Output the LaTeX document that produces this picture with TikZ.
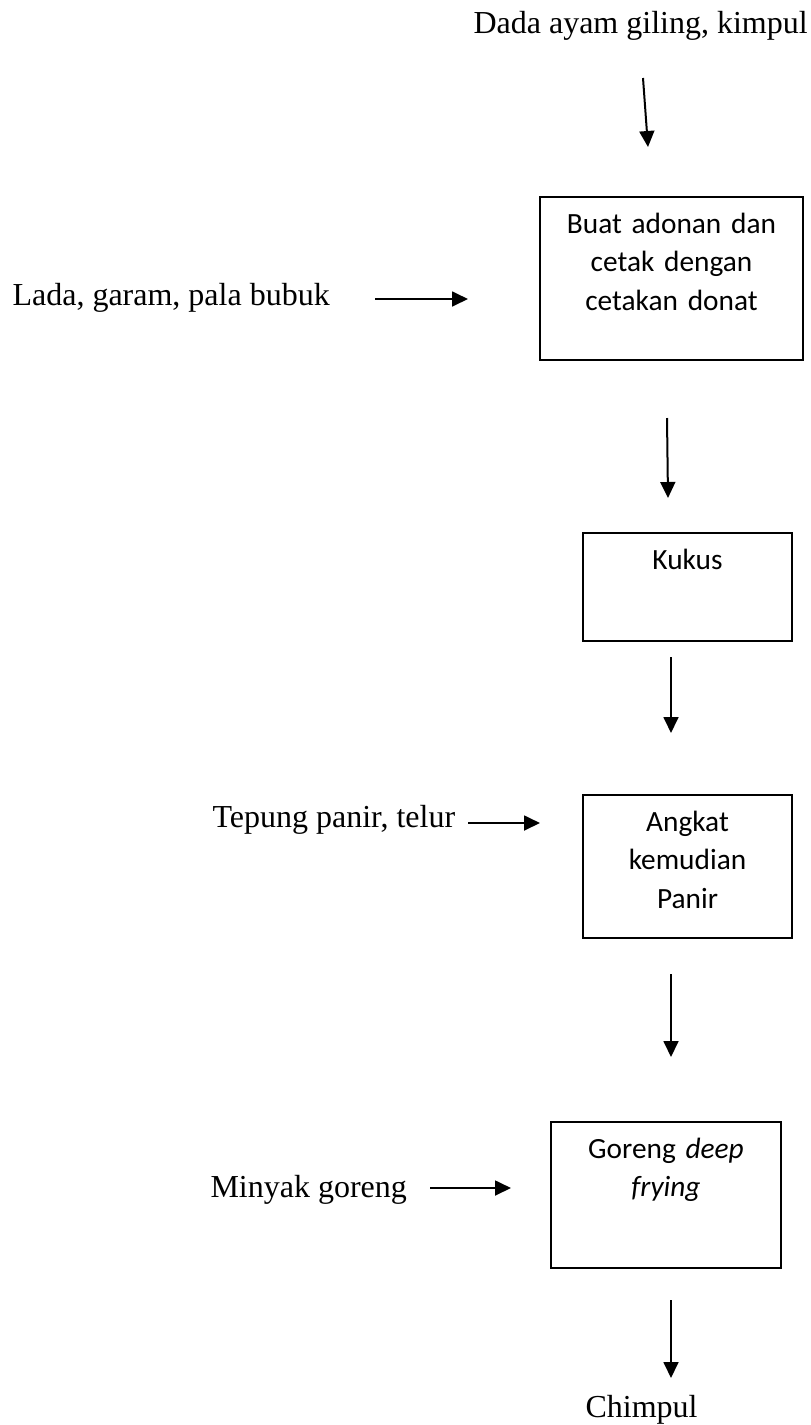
\documentclass[tikz,border=0pt]{standalone}
\usepackage{fontspec}
\setmainfont{Liberation Serif}
\newfontfamily\boxfont{Carlito}
\usetikzlibrary{arrows.meta,positioning}

\begin{document}
\begin{tikzpicture}[x=0.375pt, y=-0.375pt,
    lbl/.style={anchor=base west, inner sep=0pt, font=\fontsize{12}{14}\selectfont},
    box/.style={draw, line width=0.75pt, inner sep=0pt, align=center, text height=13.5pt,
      font=\boxfont\fontsize{11}{14.5}\selectfont},
    arr/.style={-{Triangle[width=5.6pt,length=6pt]}, line width=0.75pt}]
  \useasboundingbox (0,0) rectangle (810,1425);

  % Define nodes
  \node[lbl] (dada) at (473,33) {Dada ayam giling, kimpul};
  \node[box, text width=98.6pt, text depth=47.6pt] (buat) at (671.5,278.5)
    {Buat adonan dan\\cetak dengan\\cetakan donat};
  \node[lbl] (lada) at (12,305) {Lada, garam, pala bubuk};
  \node[box, text width=78.4pt, text depth=27pt] (kukus) at (687.5,587) {Kukus};
  \node[box, text width=78.4pt, text depth=40.1pt] (angkat) at (687.5,866.5)
    {Angkat\\kemudian\\Panir};
  \node[lbl] (tepung) at (212,827) {Tepung panir, telur};
  \node[box, text width=86.25pt, text depth=41.25pt] (goreng) at (666,1195)
    {Goreng \textit{deep}\\\textit{frying}};
  \node[lbl] (minyak) at (210,1197) {Minyak goreng};
  \node[lbl] (chimpul) at (585,1417) {Chimpul};

  % Arrow ends
  \coordinate (d1) at (643,78);     \coordinate (d2) at (648,147);
  \coordinate (l1) at (375,299);    \coordinate (l2) at (468,299);
  \coordinate (b1) at (667,418);    \coordinate (b2) at (668,498);
  \coordinate (k1) at (671,657);    \coordinate (k2) at (671,733);
  \coordinate (t1) at (468,823);    \coordinate (t2) at (540,823);
  \coordinate (a1) at (671,974);    \coordinate (a2) at (671,1057);
  \coordinate (m1) at (430,1188);   \coordinate (m2) at (511,1188);
  \coordinate (g1) at (671,1300);   \coordinate (g2) at (671,1378);

  % Draw edges
  \draw[arr] (d1) -- (d2);
  \draw[arr] (l1) -- (l2);
  \draw[arr] (b1) -- (b2);
  \draw[arr] (k1) -- (k2);
  \draw[arr] (t1) -- (t2);
  \draw[arr] (a1) -- (a2);
  \draw[arr] (m1) -- (m2);
  \draw[arr] (g1) -- (g2);
\end{tikzpicture}
\end{document}
